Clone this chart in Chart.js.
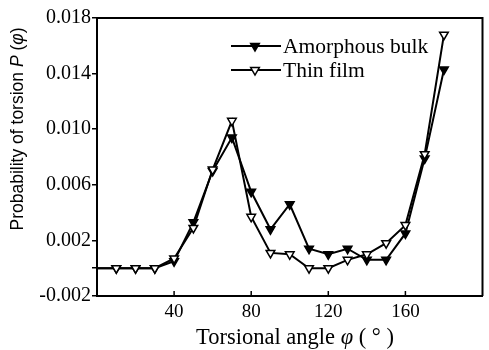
<!DOCTYPE html>
<html>
<head>
<meta charset="utf-8">
<script src="https://cdn.jsdelivr.net/npm/chart.js@4/dist/chart.umd.min.js"></script>
<style>
html,body{margin:0;padding:0;background:#fff;}
#wrap{width:489px;height:350px;position:relative;}
</style>
</head>
<body>
<div id="wrap"><canvas id="c" width="489" height="350"></canvas></div>
<script>
const angles = [0, 10, 20, 30, 40, 50, 60, 70, 80, 90, 100, 110, 120, 130, 140, 150, 160, 170, 180];
const amorphousBulk = [0, 0, 0, 0, 0.0005, 0.0033, 0.0070, 0.0094, 0.0055, 0.0028, 0.0046, 0.0014, 0.0010, 0.0014, 0.0006, 0.0006, 0.0025, 0.0079, 0.0143];
const thinFilm = [0, 0, 0, 0, 0.0007, 0.0029, 0.0071, 0.0106, 0.0037, 0.0011, 0.0010, 0.0000, 0.0000, 0.0006, 0.0010, 0.0018, 0.0031, 0.0082, 0.0168];
const seriesNames = ["Amorphous bulk", "Thin film"];
const xTickValues = [40, 80, 120, 160];
const yTickValues = [-0.002, 0, 0.002, 0.006, 0.010, 0.014, 0.018];
const yTitleParts = [["Probability of torsion ", "normal"], ["P", "italic"], [" (", "normal"], ["φ", "italic"], [")", "normal"]];
const xTitleParts = [["Torsional angle ", "normal"], ["φ", "italic"], [" ( ° )", "normal"]];

function pts(vals){ return angles.map((a,i)=>({x:a, y:vals[i]})); }
const radii = angles.map(a => a === 0 ? 0 : 5);
const SERIF = '"Liberation Serif", "Times New Roman", serif';

const decor = {
  id: 'decor',
  afterDraw(chart){
    const ctx = chart.ctx, ca = chart.chartArea;
    const xs = chart.scales.x;
    ctx.save();
    ctx.strokeStyle = '#000';
    ctx.lineWidth = 2;
    ctx.beginPath();
    ctx.moveTo(ca.left, ca.top); ctx.lineTo(ca.right, ca.top); ctx.lineTo(ca.right, ca.bottom);
    ctx.stroke();
    // x ticks (inward) and labels
    ctx.lineWidth = 1.5;
    ctx.fillStyle = '#000';
    ctx.font = '19px ' + SERIF;
    ctx.textAlign = 'center';
    ctx.textBaseline = 'middle';
    xTickValues.forEach(v => {
      const px = xs.getPixelForValue(v);
      ctx.beginPath(); ctx.moveTo(px, ca.bottom); ctx.lineTo(px, ca.bottom - 5); ctx.stroke();
      ctx.fillText(String(v), px, ca.bottom + 16);
    });
    function drawParts(parts, family, size){
      let total = 0;
      parts.forEach(p => { ctx.font = p[1] + ' ' + size + 'px ' + family; total += ctx.measureText(p[0]).width; });
      let x = -total/2;
      parts.forEach(p => { ctx.font = p[1] + ' ' + size + 'px ' + family; ctx.fillText(p[0], x, 0); x += ctx.measureText(p[0]).width; });
    }
    ctx.textBaseline = 'middle';
    ctx.textAlign = 'left';
    ctx.save();
    ctx.translate(18, 129);
    ctx.rotate(-Math.PI/2);
    drawParts(yTitleParts, '"Liberation Sans", Arial, sans-serif', 17.5);
    ctx.restore();
    ctx.save();
    ctx.translate(295, 338);
    drawParts(xTitleParts, SERIF, 22.5);
    ctx.restore();
    // legend
    const rows = [46, 70];
    chart.data.datasets.forEach((ds, i) => {
      const y = rows[i];
      ctx.strokeStyle = '#000'; ctx.lineWidth = 2;
      ctx.beginPath(); ctx.moveTo(231, y); ctx.lineTo(281, y); ctx.stroke();
      const r = 5, cx = 255;
      ctx.beginPath();
      ctx.moveTo(cx - r*0.866, y - r*0.5);
      ctx.lineTo(cx + r*0.866, y - r*0.5);
      ctx.lineTo(cx, y + r);
      ctx.closePath();
      ctx.fillStyle = ds.pointBackgroundColor; ctx.fill();
      ctx.lineWidth = 1.5; ctx.stroke();
      ctx.fillStyle = '#000';
      ctx.font = '21.5px ' + SERIF;
      ctx.textBaseline = 'middle';
      ctx.fillText(ds.label, 283, y + 1);
    });
    ctx.restore();
  }
};

new Chart(document.getElementById('c'), {
  type: 'line',
  data: {
    datasets: [
      { label: seriesNames[0], data: pts(amorphousBulk), borderColor: '#000', borderWidth: 2,
        pointStyle: 'triangle', rotation: 180, pointRadius: radii, pointBackgroundColor: '#000',
        pointBorderColor: '#000', pointBorderWidth: 1.5, tension: 0, order: 2 },
      { label: seriesNames[1], data: pts(thinFilm), borderColor: '#000', borderWidth: 2,
        pointStyle: 'triangle', rotation: 180, pointRadius: radii, pointBackgroundColor: '#fff',
        pointBorderColor: '#000', pointBorderWidth: 1.5, tension: 0, order: 1 }
    ]
  },
  options: {
    responsive: false,
    animation: false,
    devicePixelRatio: 1,
    layout: { padding: { top: 18, right: 4, left: 0, bottom: 0 } },
    plugins: { legend: { display: false }, tooltip: { enabled: false } },
    scales: {
      x: {
        type: 'linear', min: 0, max: 200,
        afterFit: s => { s.height = 54; },
        grid: { display: false },
        border: { display: true, color: '#000', width: 2 },
        ticks: { display: false, stepSize: 40 }
      },
      y: {
        min: -0.002, max: 0.018,
        afterBuildTicks: s => { s.ticks = yTickValues.map(v => ({value: v})); },
        afterFit: s => { s.width = 97; },
        grid: { display: true, drawOnChartArea: false, drawTicks: true, tickLength: 5, color: '#000', lineWidth: 1.5 },
        border: { display: true, color: '#000', width: 2 },
        ticks: { color: '#000', padding: 1, autoSkip: false,
          callback: v => (Math.abs(v) < 1e-9 ? '' : v.toFixed(3)),
          font: { family: SERIF, size: 20 } }
      }
    }
  },
  plugins: [decor]
});
</script>
</body>
</html>
